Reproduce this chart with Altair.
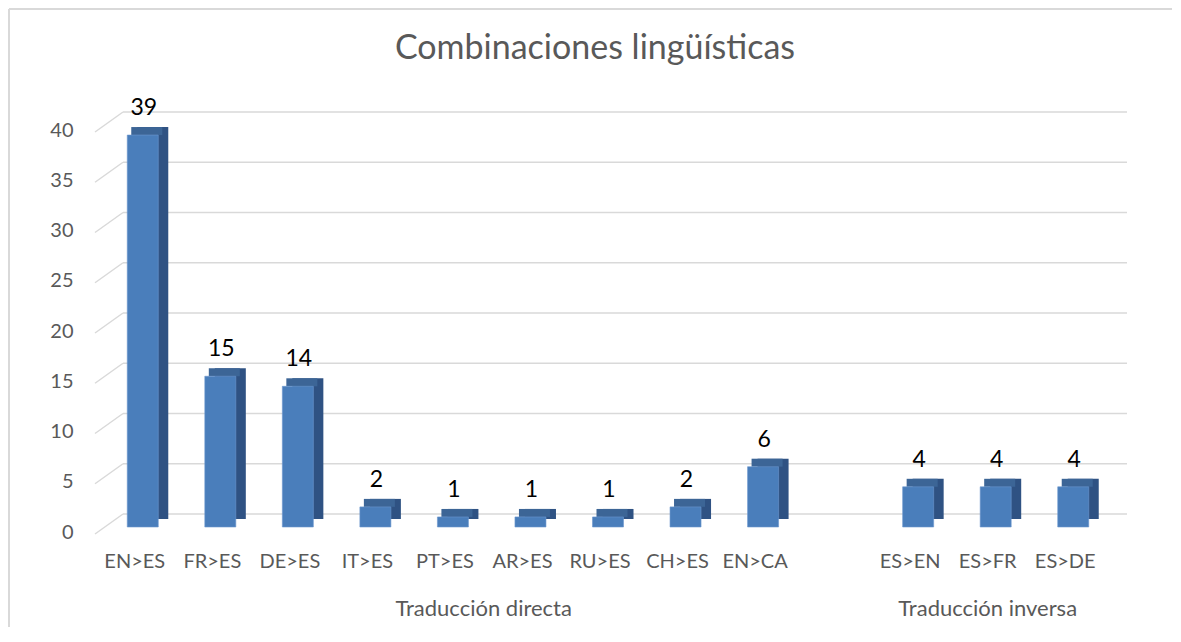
import altair as alt
import pandas as pd

# ---- data -------------------------------------------------------------
categories = ["EN>ES", "FR>ES", "DE>ES", "IT>ES", "PT>ES", "AR>ES", "RU>ES",
              "CH>ES", "EN>CA", " ", "ES>EN", "ES>FR", "ES>DE"]
values = [39, 15, 14, 2, 1, 1, 1, 2, 6, None, 4, 4, 4]
groups = ["Traducción directa"] * 10 + ["Traducción inversa"] * 3
y_ticks = [0, 5, 10, 15, 20, 25, 30, 35, 40]
title_text = "Combinaciones lingüísticas"

df = pd.DataFrame({"cat": categories, "val": values, "grp": groups})
bars_df = df.dropna(subset=["val"])
grid_df = pd.DataFrame({"val": y_ticks})
grp_direct = pd.DataFrame({"label": ["Traducción directa"], "anchor": ["AR>ES"]})
grp_inverse = pd.DataFrame({"label": ["Traducción inversa"], "anchor": ["ES>FR"]})
title_df = pd.DataFrame({"label": [title_text]})

FONT = "Lato"
GRAY = "#595959"
FRONT = "#4a7ebb"
SIDE = "#2f5283"
TOP = "#3c6596"
GRID = "#d9d9d9"

W, H = 1008, 402
STEP = W / len(categories)

xscale = alt.Scale(domain=categories, paddingInner=0.6, paddingOuter=0.3)
yscale = alt.Scale(domain=[0, 40], nice=False, zero=True)

x_axis = alt.Axis(title=None, labelAngle=0, labelFont=FONT,
                  labelFontSize=20, labelColor=GRAY, labelPadding=24,
                  labelOffset=-8, ticks=False, domain=False, grid=False)
y_axis = alt.Axis(title=None, values=y_ticks, labelFont=FONT,
                  labelFontSize=20, labelColor=GRAY, labelPadding=31,
                  labelOffset=5, ticks=False, domain=False, grid=False)

x_enc = alt.X("cat:N", scale=xscale, sort=categories, axis=x_axis)
y_enc = alt.Y("val:Q", scale=yscale, axis=y_axis)

# gridlines on the back wall + slanted floor-edge segments
grid_back = alt.Chart(grid_df).mark_rule(color=GRID, strokeWidth=1.5, yOffset=-13).encode(
    y=y_enc, x=alt.value(19), x2=alt.value(1023))
grid_slant = alt.Chart(grid_df).mark_rule(color=GRID, strokeWidth=1.5, yOffset=7, y2Offset=-13).encode(
    y=y_enc, y2="val:Q", x=alt.value(-9), x2=alt.value(19))

# 3-D look: dark side (back bar shifted up-right), lighter top strip, front bar
back = alt.Chart(bars_df).mark_bar(color=SIDE, xOffset=10, yOffset=-8, y2Offset=-8).encode(
    x=x_enc, y=y_enc)
top = alt.Chart(bars_df).mark_bar(color=TOP, xOffset=4, yOffset=-8, y2Offset=0).encode(
    x=x_enc, y=y_enc, y2="val:Q")
front = alt.Chart(bars_df).mark_bar(color=FRONT, stroke="#6b97cf", strokeWidth=0.6).encode(
    x=x_enc, y=y_enc)

labels = alt.Chart(bars_df).mark_text(font=FONT, fontSize=23, color="black",
                                      baseline="middle", dy=-27, dx=1).encode(
    x=x_enc, y=y_enc, text=alt.Text("val:Q", format="d"))

g1 = alt.Chart(grp_direct).mark_text(font=FONT, fontSize=22, color=GRAY,
                                     baseline="middle", xOffset=-STEP / 2 - 8).encode(
    x=alt.X("anchor:N", scale=xscale, sort=categories, axis=x_axis),
    y=alt.value(484), text="label:N")
g2 = alt.Chart(grp_inverse).mark_text(font=FONT, fontSize=22, color=GRAY,
                                      baseline="middle", xOffset=-8).encode(
    x=alt.X("anchor:N", scale=xscale, sort=categories, axis=x_axis),
    y=alt.value(484), text="label:N")

title = alt.Chart(title_df).mark_text(font=FONT, fontSize=34, color=GRAY,
                                      baseline="middle").encode(
    x=alt.value(491), y=alt.value(-76), text="label:N")

# frame lines (top and left), as in the reference screenshot
frame_top = alt.Chart(title_df).mark_rule(color=GRID, strokeWidth=2).encode(
    x=alt.value(-95), x2=alt.value(1070), y=alt.value(-116))
frame_left = alt.Chart(title_df).mark_rule(color=GRID, strokeWidth=2).encode(
    x=alt.value(-95), y=alt.value(-116), y2=alt.value(H + 100))

chart = alt.layer(frame_top, frame_left, grid_back, grid_slant, back, top, front, labels,
                  g1, g2, title).properties(
    width=W, height=H,
    background="white",
    autosize=alt.AutoSizeParams(type="none"),
    padding={"left": 96, "top": 117, "right": 60, "bottom": 100},
).configure_view(strokeWidth=0, stroke=None)

chart.save("out.html", embed_options={"renderer": "svg", "actions": False})
